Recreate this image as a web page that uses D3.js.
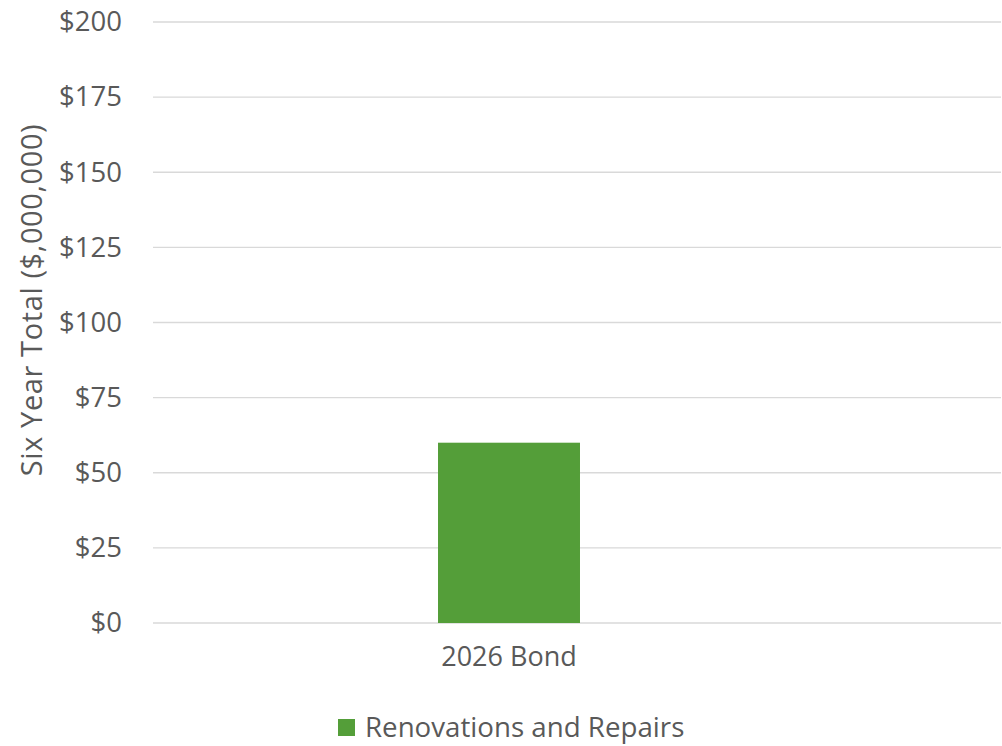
<!DOCTYPE html>
<html>
<head>
    <title>Six Year Total</title>
    <script src="https://d3js.org/d3.v7.min.js"></script>
    <style>
        body { margin: 0; background: #fff; }
        text { font-family: "Open Sans", sans-serif; fill: #595959; }
    </style>
</head>
<body>
    <svg width="1002" height="746"></svg>
    <script>
        // data
        const categories = ["2026 Bond"];
        const seriesName = "Renovations and Repairs";
        const values = [60];
        const yTicks = [0, 25, 50, 75, 100, 125, 150, 175, 200];

        const svg = d3.select("svg"),
              margin = { top: 22, right: 1, bottom: 123, left: 153 },
              width = +svg.attr("width") - margin.left - margin.right,
              height = +svg.attr("height") - margin.top - margin.bottom,
              g = svg.append("g").attr("transform", `translate(${margin.left},${margin.top})`);

        const x = d3.scaleBand()
                    .domain(categories)
                    .range([0, 712])
                    .paddingInner(0.6675)
                    .paddingOuter(0.6675);

        const y = d3.scaleLinear()
                    .domain([0, 200])
                    .range([height, 0]);

        const green = "#549E39";

        // gridlines
        g.append("g")
         .selectAll("line")
         .data(yTicks)
         .enter().append("line")
         .attr("x1", 0)
         .attr("x2", width)
         .attr("y1", d => y(d))
         .attr("y2", d => y(d))
         .attr("stroke", "#d9d9d9")
         .attr("stroke-width", 1.4);

        // y tick labels
        const yAxis = g.append("g")
         .call(d3.axisLeft(y).tickValues(yTicks).tickSize(0).tickPadding(31).tickFormat(d => "$" + d));
        yAxis.select(".domain").remove();
        yAxis.selectAll("text")
             .style("font-size", "27.5px")
             .style("font-family", "'Open Sans', sans-serif")
             .attr("fill", "#595959");

        // bars
        g.selectAll(".bar")
         .data(values)
         .enter().append("rect")
         .attr("class", "bar")
         .attr("x", (d, i) => x(categories[i]))
         .attr("width", x.bandwidth())
         .attr("y", d => y(d))
         .attr("height", d => height - y(d))
         .attr("fill", green);

        // x labels
        const xAxis = g.append("g")
         .attr("transform", `translate(0,${height})`)
         .call(d3.axisBottom(x).tickSize(0).tickPadding(24));
        xAxis.select(".domain").remove();
        xAxis.selectAll("text")
             .style("font-size", "27px")
             .style("font-family", "'Open Sans', sans-serif")
             .attr("fill", "#595959");

        // y axis title
        svg.append("text")
           .attr("transform", "translate(42,300) rotate(-90)")
           .attr("text-anchor", "middle")
           .style("font-size", "29px")
           .style("letter-spacing", "0.6px")
           .text("Six Year Total ($,000,000)");

        // legend
        const legend = svg.append("g").attr("transform", "translate(338,719)");
        legend.append("rect")
              .attr("width", 17)
              .attr("height", 17)
              .attr("fill", green);
        legend.append("text")
              .attr("x", 27)
              .attr("y", 18)
              .style("font-size", "27.7px")
              .text(seriesName);
    </script>
</body>
</html>
